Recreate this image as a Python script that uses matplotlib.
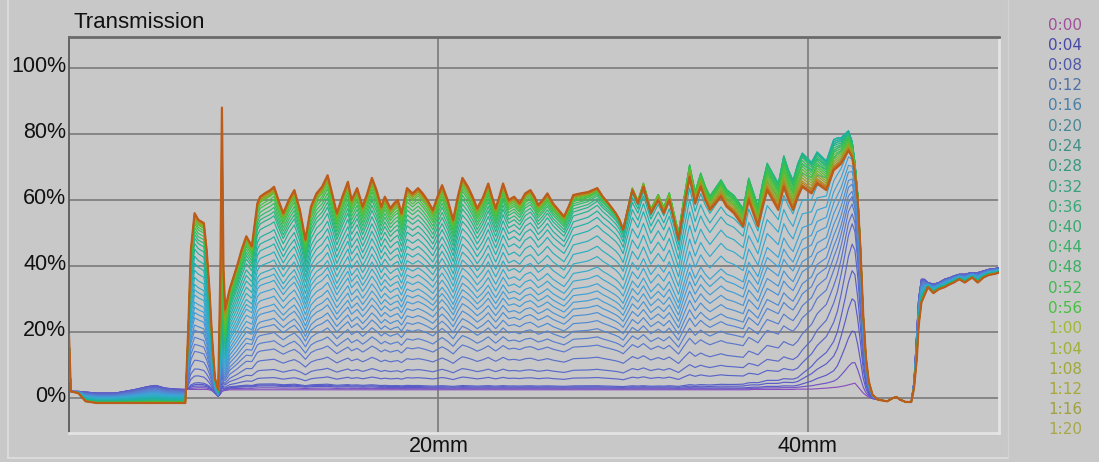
import numpy as np
import matplotlib
matplotlib.use("Agg")
import matplotlib.pyplot as plt
from matplotlib.lines import Line2D
from matplotlib.colors import LinearSegmentedColormap
import matplotlib.transforms as mtransforms

# ---------------- data ----------------
# position along the sample (mm)
x_mm = [0.00, 0.10, 0.50, 0.90, 1.50, 2.50, 3.50, 4.30, 4.70, 5.20, 5.80, 6.30, 6.45, 6.60, 6.80,
        7.00, 7.30, 7.45, 7.60, 7.75, 7.90, 8.08, 8.20, 8.28, 8.36, 8.45, 8.70, 9.10, 9.35, 9.60,
        9.90, 10.20, 10.35, 10.60, 10.90, 11.10, 11.40, 11.60, 11.90, 12.20, 12.50, 12.80, 13.10, 13.40, 13.70,
        14.00, 14.20, 14.50, 14.80, 15.10, 15.30, 15.60, 15.90, 16.15, 16.40, 16.65, 16.90, 17.10, 17.40, 17.60,
        17.80, 18.00, 18.30, 18.60, 18.90, 19.15, 19.40, 19.70, 19.95, 20.20, 20.50, 20.80, 21.05, 21.30, 21.60,
        21.85, 22.10, 22.40, 22.70, 22.90, 23.10, 23.30, 23.50, 23.80, 24.10, 24.40, 24.70, 24.98, 25.20, 25.40,
        25.65, 25.90, 26.20, 26.50, 26.80, 27.05, 27.30, 27.70, 28.10, 28.35, 28.60, 28.90, 29.20, 29.60, 29.80,
        30.00, 30.25, 30.50, 30.80, 31.10, 31.30, 31.50, 31.90, 32.20, 32.50, 32.75, 33.00, 33.30, 33.60, 33.90,
        34.20, 34.45, 34.70, 35.00, 35.30, 35.60, 36.00, 36.50, 36.80, 37.05, 37.30, 37.55, 37.80, 38.10, 38.40,
        38.70, 38.95, 39.20, 39.45, 39.70, 39.95, 40.20, 40.50, 40.75, 41.00, 41.20, 41.40, 41.60, 41.80, 42.00,
        42.20, 42.40, 42.55, 42.70, 42.85, 43.00, 43.15, 43.30, 43.50, 43.80, 44.30, 44.60, 44.80, 45.00, 45.30,
        45.60, 45.75, 45.90, 46.00, 46.15, 46.30, 46.50, 46.80, 47.10, 47.40, 47.70, 47.90, 48.20, 48.50, 48.70,
        48.90, 49.20, 49.50, 49.80, 50.10, 50.35]

# last profile (1:20), transmission %
final_pct = [19, 2, 1.5, -1, -1.5, -1.5, -1.5, -1.5, -1.5, -1.5, -1.5, -1.5, 20, 45, 56,
             54, 53, 45, 33, 18, 6, 2.5, 40, 88, 40, 27, 33, 40, 45, 49,
             46, 59, 61, 62, 63, 64, 59, 56, 60, 63, 57, 48, 58, 62, 64,
             67.5, 63, 56, 61, 65.5, 60, 63.6, 58, 62, 66.7, 63, 58, 61, 57.5, 59,
             60, 56, 63.6, 62, 63.6, 62, 60, 57, 61, 64.5, 60, 54, 61, 66.7, 64,
             61, 57.5, 60.6, 65, 61, 57.5, 61, 65, 60, 61, 59, 62, 63, 61, 58.5,
             60, 62, 59, 57, 55, 58, 61.5, 62, 62.4, 63, 63.6, 61, 59, 56, 54,
             51, 57, 63, 59, 64, 60, 56, 60, 56, 60, 54, 48, 58, 67, 59,
             64, 60, 57, 59, 61, 58, 56, 52, 60, 56, 52, 58, 63, 60, 57,
             64, 60, 57, 61, 64, 63, 62, 65, 64, 63, 66, 69, 70, 71, 73,
             75, 73, 68, 60, 45, 25, 12, 5, 1, -0.5, -1, 0, 0.3, -0.5, -1.2,
             -1.2, 3, 12, 22, 29, 31, 33.6, 31.8, 33, 33.6, 34.5, 35, 36, 35, 35.8,
             36.5, 35, 36.5, 37.3, 37.6, 38]

# first profile (0:00), transmission %
dry_pct = [19, 2, 2, 1.8, 1.5, 1.5, 2.5, 3.5, 3.8, 3.0, 2.7, 2.6, 2.6, 2.6, 2.6,
           2.6, 2.6, 2.6, 2.5, 2.2, 1.5, 0.5, 1.2, 2.0, 2.2, 2.3, 2.5, 2.5, 2.5, 2.5,
           2.5, 2.5, 2.5, 2.5, 2.5, 2.5, 2.5, 2.5, 2.5, 2.5, 2.5, 2.5, 2.5, 2.5, 2.5,
           2.5, 2.5, 2.5, 2.5, 2.5, 2.5, 2.5, 2.5, 2.5, 2.5, 2.5, 2.5, 2.5, 2.5, 2.5,
           2.5, 2.5, 2.5, 2.5, 2.5, 2.5, 2.5, 2.5, 2.5, 2.5, 2.5, 2.5, 2.5, 2.5, 2.5,
           2.5, 2.5, 2.5, 2.5, 2.5, 2.5, 2.5, 2.5, 2.5, 2.5, 2.5, 2.5, 2.5, 2.5, 2.5,
           2.5, 2.5, 2.5, 2.5, 2.5, 2.5, 2.5, 2.5, 2.5, 2.5, 2.5, 2.5, 2.5, 2.5, 2.5,
           2.5, 2.5, 2.5, 2.5, 2.5, 2.5, 2.5, 2.5, 2.5, 2.5, 2.5, 2.5, 2.5, 2.5, 2.5,
           2.5, 2.5, 2.5, 2.5, 2.5, 2.5, 2.5, 2.5, 2.5, 2.6, 2.6, 2.6, 2.6, 2.6, 2.6,
           2.6, 2.6, 2.6, 2.7, 2.7, 2.7, 2.7, 2.8, 2.9, 3.0, 3.1, 3.2, 3.3, 3.5, 3.7,
           4.0, 4.3, 4.5, 3.5, 2.5, 1.5, 0.8, 0.3, -0.2, -0.5, -1, 0, 0.3, -0.5, -1.2,
           -1.2, 5, 20, 30, 36, 36, 35, 34.5, 35, 36, 36.5, 37, 37.5, 37.5, 37.8,
           38, 38, 38.5, 39, 39.2, 39.5]

# one profile every 2 minutes; the legend lists every second one
time_labels = ["0:00", "0:04", "0:08", "0:12", "0:16", "0:20", "0:24", "0:28", "0:32", "0:36",
               "0:40", "0:44", "0:48", "0:52", "0:56", "1:00", "1:04", "1:08", "1:12", "1:16", "1:20"]

# positions (mm) where the wetted fraction of each profile was read
frac_x = [6.0, 7.0, 8.0, 8.3, 8.6, 10.0, 20.0, 28.0, 32.0, 36.0, 39.5, 41.5, 42.5, 44.5]

# fraction of the way from the first to the last profile, one row per profile (0:00 ... 1:20)
wet_fraction = [
    [0.00, 0.00, 0.00, 0.00, 0.00, 0.00, 0.00, 0.00, 0.00, 0.00, 0.00, 0.00, 0.00, 0.00],
    [0.00, 0.01, 0.01, 0.00, 0.01, 0.01, 0.005, 0.005, 0.005, 0.005, 0.01, 0.03, 0.10, 0.005],
    [0.01, 0.02, 0.02, 0.01, 0.02, 0.02, 0.01, 0.01, 0.01, 0.01, 0.02, 0.08, 0.25, 0.01],
    [0.015, 0.03, 0.025, 0.015, 0.025, 0.025, 0.015, 0.015, 0.015, 0.02, 0.04, 0.15, 0.40, 0.015],
    [0.02, 0.04, 0.03, 0.02, 0.03, 0.03, 0.02, 0.02, 0.02, 0.03, 0.06, 0.22, 0.53, 0.02],
    [0.06, 0.08, 0.06, 0.03, 0.05, 0.06, 0.06, 0.06, 0.065, 0.08, 0.11, 0.31, 0.65, 0.06],
    [0.10, 0.12, 0.10, 0.05, 0.08, 0.10, 0.10, 0.10, 0.11, 0.13, 0.17, 0.40, 0.74, 0.10],
    [0.15, 0.17, 0.15, 0.06, 0.11, 0.15, 0.155, 0.16, 0.17, 0.19, 0.25, 0.48, 0.78, 0.15],
    [0.20, 0.22, 0.20, 0.08, 0.15, 0.20, 0.21, 0.22, 0.23, 0.26, 0.33, 0.55, 0.82, 0.21],
    [0.24, 0.26, 0.24, 0.09, 0.19, 0.24, 0.255, 0.26, 0.275, 0.31, 0.39, 0.61, 0.85, 0.25],
    [0.28, 0.30, 0.28, 0.10, 0.22, 0.28, 0.30, 0.30, 0.32, 0.36, 0.45, 0.66, 0.87, 0.30],
    [0.32, 0.34, 0.32, 0.11, 0.26, 0.32, 0.335, 0.34, 0.36, 0.40, 0.50, 0.71, 0.90, 0.33],
    [0.35, 0.37, 0.35, 0.12, 0.30, 0.35, 0.37, 0.38, 0.40, 0.45, 0.56, 0.76, 0.92, 0.37],
    [0.39, 0.41, 0.39, 0.13, 0.34, 0.39, 0.405, 0.415, 0.44, 0.50, 0.61, 0.81, 0.95, 0.40],
    [0.42, 0.44, 0.42, 0.14, 0.38, 0.42, 0.44, 0.45, 0.48, 0.55, 0.67, 0.86, 0.97, 0.44],
    [0.45, 0.47, 0.45, 0.15, 0.41, 0.46, 0.47, 0.485, 0.52, 0.60, 0.72, 0.91, 1.00, 0.47],
    [0.48, 0.50, 0.48, 0.16, 0.45, 0.50, 0.50, 0.52, 0.56, 0.64, 0.78, 0.96, 1.02, 0.50],
    [0.52, 0.54, 0.52, 0.17, 0.49, 0.54, 0.535, 0.56, 0.61, 0.71, 0.85, 1.01, 1.04, 0.54],
    [0.55, 0.57, 0.55, 0.18, 0.52, 0.57, 0.57, 0.60, 0.66, 0.78, 0.92, 1.06, 1.05, 0.57],
    [0.58, 0.60, 0.58, 0.19, 0.56, 0.60, 0.605, 0.65, 0.72, 0.85, 0.99, 1.09, 1.06, 0.60],
    [0.62, 0.64, 0.62, 0.20, 0.60, 0.64, 0.64, 0.70, 0.78, 0.92, 1.06, 1.12, 1.06, 0.64],
    [0.66, 0.68, 0.66, 0.21, 0.64, 0.68, 0.675, 0.75, 0.84, 0.97, 1.11, 1.13, 1.06, 0.675],
    [0.70, 0.72, 0.70, 0.22, 0.68, 0.72, 0.71, 0.80, 0.90, 1.02, 1.15, 1.14, 1.06, 0.71],
    [0.74, 0.76, 0.74, 0.235, 0.72, 0.755, 0.745, 0.84, 0.94, 1.05, 1.16, 1.14, 1.06, 0.745],
    [0.78, 0.80, 0.78, 0.25, 0.76, 0.79, 0.78, 0.87, 0.98, 1.08, 1.17, 1.14, 1.06, 0.78],
    [0.82, 0.83, 0.82, 0.27, 0.80, 0.83, 0.81, 0.90, 1.00, 1.09, 1.17, 1.13, 1.055, 0.81],
    [0.85, 0.86, 0.85, 0.30, 0.83, 0.86, 0.84, 0.92, 1.02, 1.10, 1.17, 1.12, 1.05, 0.84],
    [0.88, 0.88, 0.88, 0.32, 0.86, 0.88, 0.865, 0.935, 1.025, 1.10, 1.16, 1.11, 1.05, 0.865],
    [0.90, 0.90, 0.90, 0.35, 0.88, 0.90, 0.89, 0.95, 1.03, 1.10, 1.15, 1.10, 1.05, 0.89],
    [0.92, 0.92, 0.92, 0.40, 0.90, 0.92, 0.91, 0.96, 1.03, 1.09, 1.135, 1.09, 1.045, 0.91],
    [0.94, 0.94, 0.94, 0.45, 0.92, 0.94, 0.93, 0.97, 1.03, 1.08, 1.12, 1.08, 1.04, 0.93],
    [0.95, 0.955, 0.95, 0.52, 0.935, 0.955, 0.945, 0.975, 1.03, 1.07, 1.105, 1.07, 1.035, 0.945],
    [0.96, 0.97, 0.96, 0.60, 0.95, 0.97, 0.96, 0.98, 1.03, 1.06, 1.09, 1.06, 1.03, 0.96],
    [0.97, 0.975, 0.97, 0.68, 0.96, 0.975, 0.97, 0.985, 1.025, 1.05, 1.075, 1.05, 1.025, 0.97],
    [0.98, 0.98, 0.98, 0.75, 0.97, 0.98, 0.98, 0.99, 1.02, 1.04, 1.06, 1.04, 1.02, 0.98],
    [0.985, 0.985, 0.985, 0.82, 0.98, 0.985, 0.982, 0.99, 1.015, 1.03, 1.045, 1.03, 1.015, 0.985],
    [0.99, 0.99, 0.99, 0.88, 0.99, 0.99, 0.985, 0.99, 1.01, 1.02, 1.03, 1.02, 1.01, 0.99],
    [0.995, 0.995, 0.995, 0.92, 0.995, 0.995, 0.99, 0.995, 1.005, 1.015, 1.02, 1.015, 1.005, 0.995],
    [1.00, 1.00, 1.00, 0.95, 1.00, 1.00, 0.995, 1.00, 1.00, 1.01, 1.01, 1.01, 1.00, 1.00],
    [1.00, 1.00, 1.00, 0.98, 1.00, 1.00, 0.998, 1.00, 1.00, 1.005, 1.005, 1.005, 1.00, 1.00],
    [1.00, 1.00, 1.00, 1.00, 1.00, 1.00, 1.00, 1.00, 1.00, 1.00, 1.00, 1.00, 1.00, 1.00],
]

y_ticks = [0, 20, 40, 60, 80, 100]
y_tick_labels = ["0%", "20%", "40%", "60%", "80%", "100%"]
x_ticks = [20, 40]
x_tick_labels = ["20mm", "40mm"]

# ---------------- styles ----------------
line_color_stops = ["#8a50c0", "#5a58c8", "#5860c8", "#5a6ac8", "#5a78cc", "#5484d0", "#4c90d4",
                    "#449cd6", "#3ca4d4", "#34aacc", "#2aaec0", "#22b0b0", "#1eb0a0", "#22b488",
                    "#2cbc68", "#38c048", "#50c038", "#80b028", "#b09020", "#c47020", "#bc5c1a"]
label_colors = ["#a0509a", "#4848a8", "#5058a8", "#5070a8", "#4880a8", "#4a8898", "#409088",
                "#389880", "#38a080", "#38a878", "#38a870", "#38b068", "#38b060", "#40b850",
                "#48c040", "#a0b838", "#a0b038", "#a0a838", "#a8a838", "#a0a040", "#a8a848"]
cmap = LinearSegmentedColormap.from_list("prof", line_color_stops)

BG = "#c8c8c8"
W, H = 1099, 462
fig = plt.figure(figsize=(W / 100, H / 100), dpi=100, facecolor=BG)
ax = fig.add_axes([69 / W, 1 - 433 / H, (999 - 69) / W, (433 - 37) / H], facecolor=BG)

x = np.array(x_mm)
wet = np.array(final_pct)
dry = np.array(dry_pct)
n = len(wet_fraction)
for i, row in enumerate(wet_fraction):
    w = np.interp(x, frac_x, row)
    y = dry + w * (wet - dry)
    lw = 1.6 if i == n - 1 else 0.85
    ax.plot(x, y, color=cmap(i / (n - 1)), lw=lw, zorder=3 + i, solid_joinstyle="round")

ax.set_xlim(0, 50.35)
ax.set_ylim(-10.6, 109.4)
ax.set_yticks(y_ticks)
ax.set_yticklabels(y_tick_labels)
ax.set_xticks(x_ticks)
ax.set_xticklabels(x_tick_labels)
ax.grid(True, color="#7a7a7a", lw=1.2, zorder=1)
ax.tick_params(length=0, labelsize=15.5, colors="#111111", pad=2)
for lab in ax.get_yticklabels() + ax.get_xticklabels():
    lab.set_fontfamily(["Liberation Sans", "DejaVu Sans"])
offset = mtransforms.ScaledTranslation(0, 4 / 100, fig.dpi_scale_trans)
for lab in ax.get_yticklabels():
    lab.set_transform(lab.get_transform() + offset)

ax.spines["left"].set_color("#5a5a5a")
ax.spines["left"].set_linewidth(1.3)
ax.spines["top"].set_color("#6a6a6a")
ax.spines["top"].set_linewidth(2.0)
ax.spines["bottom"].set_color("#e4e4e4")
ax.spines["bottom"].set_linewidth(2.0)
ax.spines["right"].set_color("#e4e4e4")
ax.spines["right"].set_linewidth(2.0)

fig.text(73 / W, 1 - 22 / H, "Transmission", ha="left", va="center", fontsize=16,
         color="#111111", family=["Liberation Sans", "DejaVu Sans"])

# time legend
for i, (lab, col) in enumerate(zip(time_labels, label_colors)):
    fig.text(1065 / W, 1 - (25 + i * 20.25) / H, lab, ha="center", va="center",
             fontsize=11, color=col, family=["DejaVu Sans"])

# outer frame lines
fig.add_artist(Line2D([8 / W, 8 / W], [1 - 458 / H, 1], color="#dedede", lw=1.2))
fig.add_artist(Line2D([8 / W, 1008 / W], [1 - 458 / H, 1 - 458 / H], color="#dedede", lw=1.2))
fig.add_artist(Line2D([1008 / W, 1008 / W], [1 - 458 / H, 1], color="#d2d2d2", lw=1.0))

fig.savefig("out.png", dpi=100, facecolor=BG)
